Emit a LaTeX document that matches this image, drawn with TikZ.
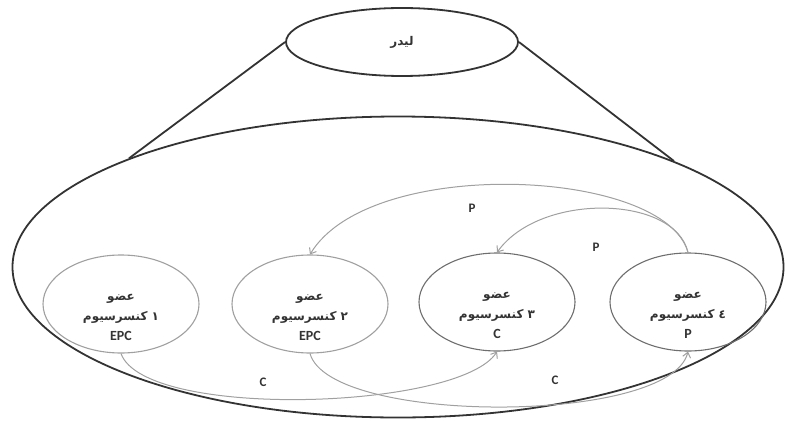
\documentclass[tikz,border=0pt]{standalone}
\usepackage{fontspec}
\setmainfont{Carlito}
\newfontfamily\arabicfont[Script=Arabic]{DejaVu Sans}
\TeXXeTstate=1
\usetikzlibrary{shapes.geometric,arrows.meta}
\definecolor{ink}{HTML}{333333}
\definecolor{lite}{HTML}{A0A0A0}
\definecolor{mid}{HTML}{6E6E6E}
\newcommand{\fa}{\arabicfont\fontsize{12}{20}\selectfont}

\begin{document}
\begin{tikzpicture}[x=1pt,y=-1pt,
  every node/.style={ellipse,inner sep=0pt,align=center,text=ink,font=\bfseries\fontsize{14}{20}\selectfont},
  member/.style 2 args={draw=#1,line width=1.1pt,minimum width=156pt,minimum height=98pt,
    label={[yshift=-13pt]center:#2}},
  outline/.style={draw=ink,line width=1.8pt},
  arrow/.style={-{Straight Barb[length=5pt,width=8pt]},color=lite,line width=1pt},
  lbl/.style={font=\bfseries\fontsize{13}{15}\selectfont}]
\useasboundingbox (0,0) rectangle (786,420);
\node[outline,minimum width=771pt,minimum height=301pt] (team) at (398,267) {};
\node[outline,minimum width=232pt,minimum height=68pt] (leader) at (402,42) {{\fa\beginR لیدر\endR}};
\draw[ink,line width=1.8pt] (leader.west) -- (team.158);
\draw[ink,line width=1.8pt] (leader.east) -- (team.21);
\node[member={lite}{{\fa\beginR عضو\endR}\\{\fa\beginR ١ کنسرسیوم\endR}\\EPC}] (m1) at (121,304) {};
\node[member={lite}{{\fa\beginR عضو\endR}\\{\fa\beginR ٢ کنسرسیوم\endR}\\EPC}] (m2) at (310,304) {};
\node[member={mid}{{\fa\beginR عضو\endR}\\{\fa\beginR ٣ کنسرسیوم\endR}\\C}] (m3) at (497,302) {};
\node[member={mid}{{\fa\beginR عضو\endR}\\{\fa\beginR ٤ کنسرسیوم\endR}\\P}] (m4) at (688,302) {};
% P flows
\draw[arrow] (m4.north) .. controls (665,168) and (370,155) .. (m2.north);
\draw[arrow] (m4.north) .. controls (675,195) and (540,192) .. (m3.north);
\node[lbl] (p1) at (472,208) {P};
\node[lbl] (p2) at (596,247) {P};
% C flows
\draw[arrow] (m1.south) .. controls (145,420) and (460,410) .. (m3.south);
\draw[arrow] (m2.south) .. controls (330,425) and (670,425) .. (m4.south);
\node[lbl] (c1) at (263,382) {C};
\node[lbl] (c2) at (555,380) {C};
\end{tikzpicture}
\end{document}
